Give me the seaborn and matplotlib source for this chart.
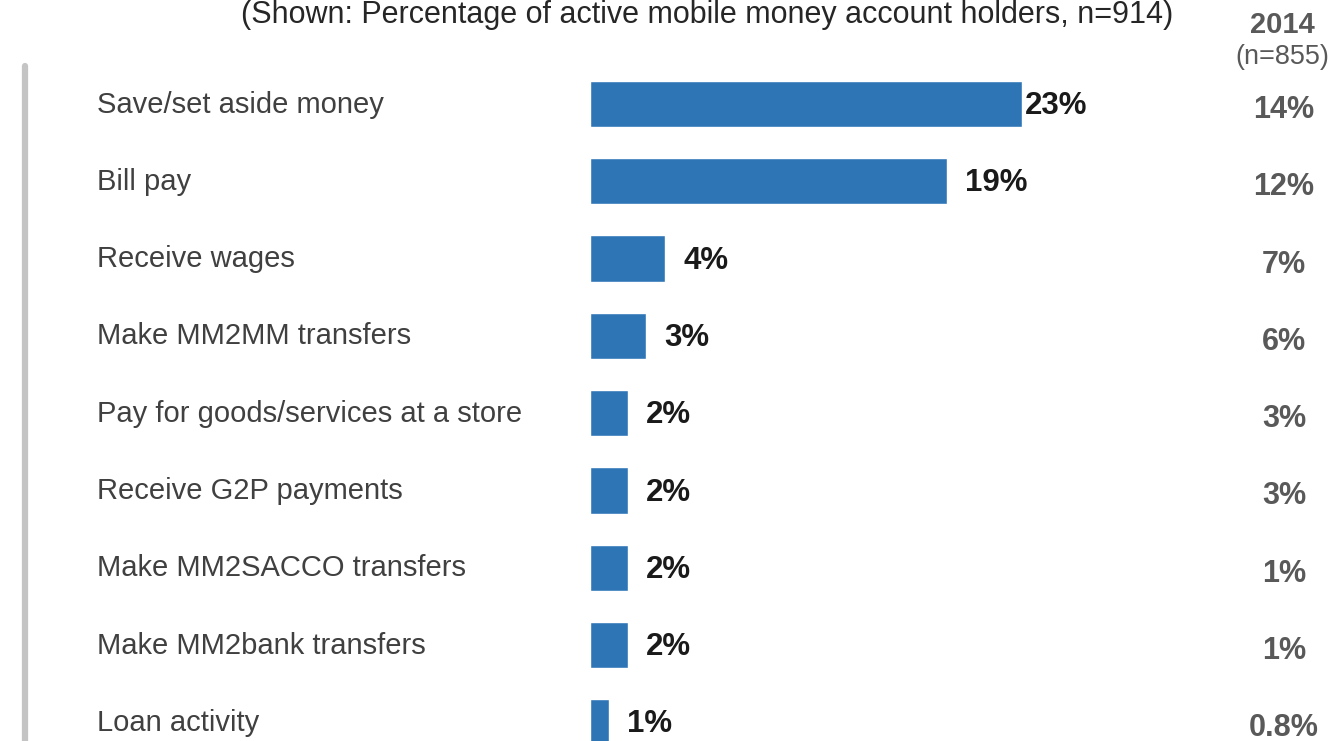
import matplotlib.pyplot as plt
import matplotlib.transforms as mtransforms
from matplotlib.lines import Line2D
import seaborn as sns
import pandas as pd

# Datos
activities = [
    "Save/set aside money",
    "Bill pay",
    "Receive wages",
    "Make MM2MM transfers",
    "Pay for goods/services at a store",
    "Receive G2P payments",
    "Make MM2SACCO transfers",
    "Make MM2bank transfers",
    "Loan activity",
]
share_2015 = [23, 19, 4, 3, 2, 2, 2, 2, 1]
labels_2014 = ["14%", "12%", "7%", "6%", "3%", "3%", "1%", "1%", "0.8%"]

df = pd.DataFrame({"activity": activities, "share": share_2015})

sns.set_theme(style="white")
plt.rcParams["font.family"] = ["Liberation Sans", "DejaVu Sans"]

W, H = 1340, 741
fig = plt.figure(figsize=(W / 100, H / 100), dpi=100)
fig.patch.set_facecolor("white")

# El eje empieza donde empiezan las barras (x=590 px)
ax = fig.add_axes([590 / W, 0, 1 - 590 / W, 1])

sns.barplot(data=df, x="share", y="activity", orient="h", color="#2e75b6",
            saturation=1, width=0.6, ax=ax)

px_per_pct = 18.8
ax.set_xlim(0, (W - 590) / px_per_pct)
row = 77.3
top = -104 / row
ax.set_ylim(top + H / row, top)

ax.set_xlabel("")
ax.set_ylabel("")
ax.set_xticks([])
ax.set_yticks([])
for s in ax.spines.values():
    s.set_visible(False)
ax.set_facecolor("none")

# Etiquetas de valor
for i, v in enumerate(share_2015):
    ax.annotate(f"{v}%", xy=(v, i + 0.13), xytext=(13 if v < 20 else 2, 0),
                textcoords="offset points", va="baseline", ha="left",
                fontsize=22.5, fontweight="bold", color="#1a1a1a")

# Nombres de categoría a la izquierda
trans = mtransforms.blended_transform_factory(fig.transFigure, ax.transData)
for i, name in enumerate(activities):
    fig.text(97 / W, i + 0.11, name, transform=trans, ha="left", va="baseline",
             fontsize=21, color="#404040")

# Columna 2014
for i, lab in enumerate(labels_2014):
    fig.text(1284 / W, i + 0.18, lab, transform=trans, ha="center", va="baseline",
             fontsize=22, fontweight="bold", color="#595959")

fig.text(1282 / W, 1 - 25 / H, "2014", ha="center", va="center",
         fontsize=21, fontweight="bold", color="#595959")
fig.text(1282 / W, 1 - 57 / H, "(n=855)", ha="center", va="center",
         fontsize=19.5, color="#595959")

fig.text(707 / W, 1 - 15 / H,
         "(Shown: Percentage of active mobile money account holders, n=914)",
         ha="center", va="center", fontsize=22, color="#262626")

# Línea gris vertical a la izquierda
fig.add_artist(Line2D([25 / W, 25 / W], [0, 1 - 66 / H], transform=fig.transFigure,
                      color="#c4c4c4", linewidth=4.5, solid_capstyle="round"))

fig.savefig("out.png", dpi=100)
